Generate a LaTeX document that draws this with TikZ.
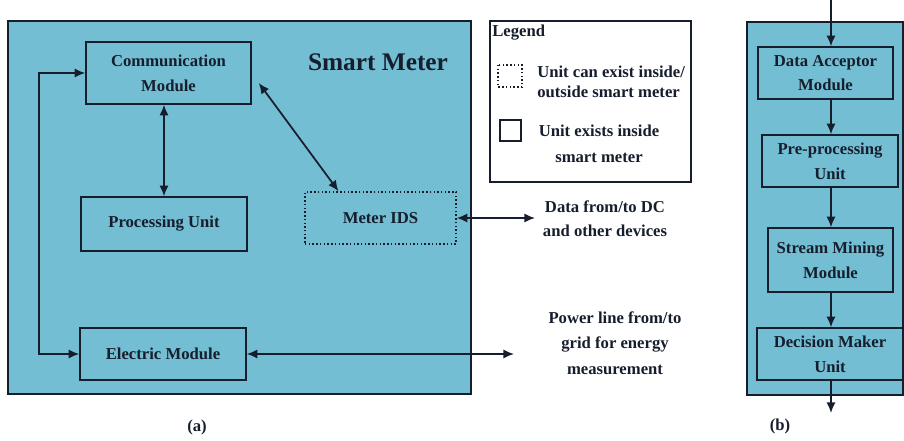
\documentclass[tikz,border=0pt]{standalone}
\usepackage{fontspec}
\setmainfont{Liberation Serif}
\usetikzlibrary{arrows.meta,calc}

\definecolor{meterblue}{RGB}{115,190,210}
\definecolor{inkcol}{RGB}{22,30,45}

\begin{document}
\begin{tikzpicture}[x=0.75pt,y=-0.75pt,
    >={Latex[length=8pt,width=7pt]},
    unit/.style={draw=inkcol, line width=1.2pt, fill=meterblue, align=center, inner sep=0pt, text=inkcol, font=\bfseries\fontsize{12.5}{18.5}\selectfont},
    panel/.style={draw=inkcol, line width=1.5pt, fill=meterblue},
    link/.style={draw=inkcol, line width=1.3pt},
    dots/.style={dash pattern=on 1.1pt off 1.7pt},
    note/.style={align=center, inner sep=0pt, text=inkcol, font=\bfseries\fontsize{12.5}{18.5}\selectfont}]
    \useasboundingbox (0,0) rectangle (904,440);
    % panel (a): smart meter
    \draw[panel] (8,21) rectangle (471,394);
    \node[note, font=\bfseries\fontsize{19}{22}\selectfont] (title) at (378,62) {Smart Meter};
    \node[unit, minimum width=123.75pt, minimum height=46.5pt] (comm) at (168.5,73) {Communication\\Module};
    \node[unit, minimum width=124.5pt, minimum height=40.5pt] (proc) at (164,224) {Processing Unit};
    \node[unit, minimum width=124.5pt, minimum height=39pt] (elec) at (163,354) {Electric Module};
    \node[unit, dots, minimum width=113.25pt, minimum height=39pt] (ids) at (380.5,218) {Meter IDS};
    \coordinate (loop) at (39,214);
    \coordinate (dc) at (535,218);
    \coordinate (grid) at (514,354);
    \draw[link, <->] (proc.north |- comm.south) -- (proc.north);
    \draw[link, <->] ($(comm.east)+(7,10)$) -- ($(ids.north)+(-42,0)$);
    \draw[link, <->] (comm.west) -| (loop) |- (elec.west);
    \draw[link, <->] (ids.east) -- (dc);
    \draw[link, <->] (elec.east) -- (grid);
    \node[note, font=\bfseries\fontsize{12.5}{18}\selectfont] (dctext) at (605,219) {Data from/to DC\\and other devices};
    \node[note, font=\bfseries\fontsize{12.5}{19}\selectfont] (gridtext) at (615,343) {Power line from/to\\grid for energy\\measurement};
    \node[note] (capa) at (197,427) {(a)};
    % legend
    \draw[link, line width=1.2pt, fill=white] (490,21) rectangle (691,182);
    \node[note, anchor=west] (legend) at (492,33) {Legend};
    \draw[link, line width=1.1pt, dots] (498,65) rectangle (522,87);
    \draw[link] (500,120) rectangle (521,141);
    \node[note, anchor=west, align=left, font=\bfseries\fontsize{12.5}{15}\selectfont] (outside) at (537,82) {Unit can exist inside/\\\hspace{0pt}outside smart meter};
    \node[note, font=\bfseries\fontsize{12.5}{19.5}\selectfont] (inside) at (599,144) {Unit exists inside\\smart meter};
    % panel (b): IDS pipeline
    \draw[panel] (747,22) rectangle (903,395);
    \node[unit, minimum width=101.25pt, minimum height=39pt] (acc) at (825.5,73) {Data Acceptor\\Module};
    \node[unit, minimum width=102pt, minimum height=39pt] (pre) at (830,161) {Pre-processing\\Unit};
    \node[unit, minimum width=93.75pt, minimum height=48pt] (mine) at (830.5,260) {Stream Mining\\Module};
    \node[unit, minimum width=109.5pt, minimum height=39pt] (dec) at (830,354) {Decision Maker\\Unit};
    \coordinate (feed) at (831,0);
    \coordinate (out) at (831,413);
    \draw[link, ->] (feed) -- (feed |- acc.north);
    \draw[link, ->] (feed |- acc.south) -- (feed |- pre.north);
    \draw[link, ->] (feed |- pre.south) -- (feed |- mine.north);
    \draw[link, ->] (feed |- mine.south) -- (feed |- dec.north);
    \draw[link, ->] (out |- dec.south) -- (out);
    \node[note] (capb) at (780,426) {(b)};
\end{tikzpicture}
\end{document}
